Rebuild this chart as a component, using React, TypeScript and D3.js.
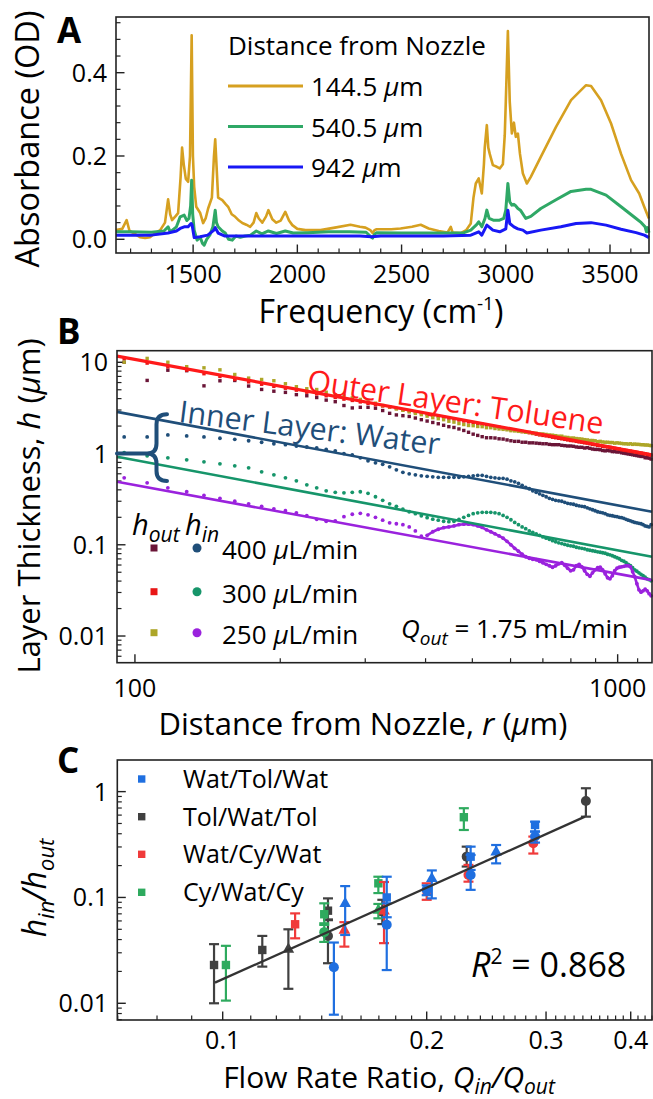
import React, { useEffect } from 'react';
import * as d3 from 'd3';

const FONT = "'Open Sans', 'Noto Sans', sans-serif";

// ---------------- Panel A data (frequency cm-1, absorbance OD) ----------------
const freqOrange = [1130,1160,1181,1195,1215,1245,1270,1293,1320,1342,1365,1380,1390,1399,1415,1428,1440,1447,1455,1465,1476,1485,1493,1499,1505,1515,1534,1548,1560,1572,1590,1600,1606,1612,1620,1640,1655,1668,1685,1702,1720,1736,1755,1774,1790,1803,1815,1832,1850,1861,1880,1899,1920,1942,1960,1976,2000,2039,2111,2180,2255,2300,2327,2350,2361,2370,2380,2450,2495,2550,2592,2630,2678,2720,2736,2745,2784,2810,2832,2845,2856,2870,2885,2895,2899,2909,2916,2923,2938,2957,2971,2986,2995,3000,3010,3019,3029,3039,3048,3058,3068,3082,3101,3120,3168,3241,3313,3385,3409,3457,3505,3553,3601,3640,3664,3683,3687];
const absOrange = [0.022,0.025,0.046,0.02,0.015,0.005,0.003,0.005,0.015,0.022,0.04,0.096,0.06,0.046,0.055,0.063,0.15,0.22,0.18,0.145,0.138,0.2,0.49,0.2,0.126,0.078,0.063,0.039,0.05,0.074,0.1,0.2,0.24,0.18,0.10,0.094,0.085,0.078,0.06,0.054,0.045,0.039,0.035,0.03,0.04,0.063,0.05,0.04,0.055,0.07,0.048,0.04,0.045,0.066,0.045,0.034,0.025,0.022,0.022,0.028,0.035,0.03,0.028,0.022,0.015,0.022,0.024,0.024,0.026,0.03,0.035,0.026,0.02,0.016,0.03,0.016,0.015,0.022,0.038,0.1,0.134,0.146,0.11,0.18,0.22,0.274,0.22,0.205,0.178,0.174,0.17,0.18,0.25,0.33,0.50,0.33,0.254,0.28,0.246,0.254,0.205,0.158,0.134,0.15,0.198,0.27,0.334,0.37,0.368,0.334,0.278,0.205,0.142,0.11,0.078,0.054,0.05];

const freqGreen = [1130,1200,1300,1360,1380,1390,1420,1438,1457,1470,1480,1488,1493,1498,1505,1519,1534,1545,1553,1565,1580,1595,1606,1612,1620,1640,1654,1670,1688,1705,1726,1750,1775,1803,1830,1861,1900,1942,1980,2050,2150,2250,2330,2355,2361,2370,2380,2500,2600,2700,2800,2832,2860,2870,2885,2900,2909,2920,2940,2970,2990,3000,3010,3019,3029,3039,3048,3058,3070,3096,3120,3168,3241,3313,3385,3409,3481,3553,3625,3650,3668,3675,3680,3687];
const absGreen = [0.018,0.018,0.017,0.02,0.03,0.018,0.03,0.054,0.058,0.045,0.05,0.08,0.142,0.06,0.022,-0.002,0.005,-0.01,-0.014,0.0,0.01,0.03,0.07,0.04,0.03,0.02,0.015,0.0,-0.002,0.008,0.005,0.008,0.01,0.02,0.013,0.02,0.014,0.02,0.015,0.016,0.018,0.018,0.017,0.005,0.003,0.012,0.016,0.015,0.015,0.015,0.016,0.022,0.035,0.042,0.03,0.05,0.07,0.05,0.046,0.046,0.05,0.07,0.134,0.09,0.082,0.084,0.08,0.074,0.07,0.05,0.055,0.074,0.095,0.115,0.12,0.12,0.106,0.078,0.05,0.04,0.03,0.018,0.028,0.016];

const freqBlue = [1130,1300,1380,1420,1438,1457,1476,1490,1495,1505,1534,1570,1600,1606,1620,1650,1800,2000,2300,2356,2400,2700,2832,2870,2885,2909,2938,2971,3000,3010,3019,3039,3058,3082,3101,3168,3264,3337,3409,3481,3553,3625,3665,3687];
const absBlue = [0.01,0.01,0.015,0.02,0.026,0.03,0.03,0.038,0.035,0.004,0.006,0.01,0.022,0.028,0.015,0.008,0.008,0.008,0.008,0.006,0.008,0.008,0.01,0.018,0.01,0.034,0.022,0.018,0.025,0.07,0.038,0.03,0.025,0.022,0.015,0.022,0.03,0.038,0.04,0.034,0.024,0.016,0.01,0.004];

const distances = ['144.5', '540.5', '942'];
const specColors = ['#D6A020', '#2FA866', '#1818F5'];
const aXTicks = [1500, 2000, 2500, 3000, 3500];
const aYTicks = [0, 0.2, 0.4];

// ---------------- Panel B data (r in um, h in um) ----------------
const rGrid = [95,106,117,128,139,150,161,172,183,194,205,216,227,238,249,260,271,282,293,304,315,326,337,348,359,370,381,392,403,414,425,436,447,458,469,480,491,502,513,524,535,546,557,568,579,590,601,612,623,634,645,656,667,678,689,700,711,722,733,744,755,766,777,788,799,810,821,832,843,854,865,876,887,898,909,920,931,942,953,964,975,986,997,1008,1019,1030,1041,1052,1063,1074,1085,1096,1107,1118,1129,1140,1151,1162,1173];
const hOut400 = [10.03,6.33,8.19,8.09,5.52,6.27,6.32,5.49,5.04,4.82,4.68,4.42,4.30,4.11,3.85,3.70,3.36,3.16,3.21,3.21,3.14,2.96,2.76,2.65,2.60,2.55,2.45,2.35,2.27,2.19,2.12,2.04,1.97,1.93,1.86,1.79,1.71,1.63,1.58,1.53,1.49,1.49,1.48,1.45,1.44,1.41,1.38,1.36,1.36,1.33,1.33,1.31,1.31,1.30,1.29,1.28,1.28,1.26,1.25,1.25,1.25,1.23,1.22,1.21,1.21,1.20,1.18,1.17,1.17,1.15,1.16,1.14,1.12,1.11,1.11,1.10,1.08,1.07,1.08,1.07,1.05,1.05,1.04,1.04,1.02,1.01,1.00,0.99,0.98,0.97,0.96,0.95,0.94,0.93,0.93,0.90,0.90,0.89,0.87];
const hOut300 = [11.0,9.8,8.9,8.2,7.5,7.0,6.5,6.1,5.75,5.45,5.2,4.95,4.7,4.5,4.3,4.12,3.95,3.82,3.68,3.55,3.43,3.32,3.22,3.12,3.02,2.93,2.85,2.78,2.70,2.63,2.57,2.50,2.44,2.39,2.33,2.27,2.22,2.18,2.13,2.09,2.05,2.01,1.97,1.94,1.90,1.87,1.83,1.80,1.77,1.74,1.71,1.69,1.66,1.63,1.60,1.58,1.56,1.54,1.51,1.49,1.47,1.45,1.43,1.41,1.39,1.38,1.36,1.34,1.33,1.31,1.30,1.28,1.26,1.25,1.23,1.22,1.20,1.19,1.18,1.17,1.15,1.14,1.13,1.12,1.10,1.09,1.08,1.07,1.06,1.05,1.04,1.03,1.02,1.01,1.00,0.99,0.98,0.97,0.96];
const hOut250 = [10.03,11.03,10.02,8.95,8.70,8.27,7.35,6.71,6.48,6.28,5.82,5.40,5.13,5.03,4.70,4.41,4.27,4.07,3.92,3.68,3.56,3.36,3.25,3.08,2.98,2.86,2.75,2.67,2.57,2.47,2.41,2.35,2.26,2.21,2.13,2.08,2.03,2.02,1.98,1.97,1.92,1.92,1.88,1.86,1.84,1.82,1.78,1.77,1.75,1.74,1.71,1.71,1.68,1.67,1.64,1.64,1.62,1.60,1.59,1.57,1.55,1.55,1.51,1.50,1.48,1.48,1.46,1.45,1.44,1.42,1.41,1.39,1.39,1.38,1.35,1.36,1.34,1.33,1.33,1.32,1.32,1.30,1.31,1.30,1.29,1.28,1.28,1.27,1.28,1.26,1.27,1.26,1.26,1.25,1.25,1.24,1.24,1.23,1.22];
const hIn400 = [1.52,1.52,1.60,1.56,1.52,1.47,1.43,1.38,1.33,1.28,1.25,1.21,1.18,1.15,1.11,1.07,1.00,0.968,0.897,0.832,0.791,0.762,0.715,0.663,0.622,0.599,0.584,0.570,0.563,0.556,0.549,0.549,0.549,0.549,0.549,0.556,0.563,0.570,0.577,0.577,0.563,0.549,0.542,0.535,0.535,0.524,0.502,0.490,0.472,0.448,0.426,0.411,0.390,0.376,0.362,0.348,0.336,0.323,0.315,0.307,0.303,0.300,0.292,0.285,0.281,0.278,0.271,0.267,0.264,0.261,0.254,0.248,0.242,0.236,0.230,0.227,0.224,0.219,0.213,0.210,0.208,0.205,0.203,0.200,0.198,0.195,0.190,0.186,0.183,0.179,0.176,0.174,0.172,0.170,0.166,0.161,0.159,0.157,0.166];
const hIn300 = [1.02,0.944,0.897,0.853,0.811,0.771,0.733,0.697,0.630,0.584,0.542,0.502,0.454,0.421,0.390,0.376,0.371,0.376,0.381,0.366,0.336,0.307,0.281,0.264,0.245,0.230,0.219,0.208,0.198,0.191,0.186,0.181,0.179,0.181,0.190,0.200,0.210,0.219,0.224,0.227,0.227,0.227,0.224,0.219,0.210,0.200,0.188,0.176,0.166,0.157,0.150,0.142,0.137,0.132,0.127,0.122,0.118,0.115,0.111,0.108,0.105,0.103,0.101,0.0988,0.0975,0.0963,0.0939,0.0927,0.0915,0.0904,0.0882,0.0871,0.0860,0.0849,0.0838,0.0828,0.0818,0.0807,0.0787,0.0777,0.0758,0.0739,0.0721,0.0703,0.0676,0.0660,0.0635,0.0611,0.0589,0.0560,0.0532,0.0513,0.0493,0.0475,0.0458,0.0441,0.0424,0.0414,0.0403];
const hIn250 = [0.542,0.478,0.421,0.381,0.348,0.323,0.300,0.281,0.264,0.248,0.236,0.224,0.208,0.190,0.181,0.183,0.203,0.216,0.221,0.213,0.200,0.186,0.174,0.170,0.166,0.157,0.142,0.124,0.127,0.139,0.148,0.154,0.157,0.161,0.166,0.168,0.168,0.166,0.161,0.155,0.146,0.139,0.132,0.125,0.118,0.109,0.100,0.0915,0.0849,0.0787,0.0739,0.0712,0.0694,0.0685,0.0660,0.0635,0.0611,0.0589,0.0567,0.0589,0.0619,0.0635,0.0596,0.0553,0.0519,0.0532,0.0589,0.0611,0.0574,0.0519,0.0475,0.0452,0.0493,0.0532,0.0560,0.0567,0.0532,0.0481,0.0435,0.0424,0.0458,0.0519,0.0553,0.0567,0.0574,0.0581,0.0589,0.0589,0.0574,0.0506,0.0446,0.0374,0.0321,0.0302,0.0313,0.0326,0.0313,0.0291,0.0276];

const fitR = [91.8, 1178];
const fitOuter = [11.7, 0.97];
const fitIn400 = [2.86, 0.23];
const fitIn300 = [0.92, 0.074];
const fitIn250 = [0.49, 0.041];

const flowRates = ['400', '300', '250'];
const outColors = ['#6A1537', '#E81616', '#ADA628'];
const inColors = ['#1F4E79', '#16956A', '#9A22DD'];
const bYTicks = [10, 1, 0.1, 0.01];
const bYLabels = ['10', '1', '0.1', '0.01'];
const bXTicks = [100, 1000];

// ---------------- Panel C data ----------------
// [Qin/Qout, hin/hout, lower, upper, shape]
const cBlue = [
  [0.1459, 0.0219, 0.0078, 0.0375, 'c'],
  [0.1516, 0.0881, 0.0442, 0.128, 't'],
  [0.1746, 0.100, 0.065, 0.157, 's'],
  [0.1746, 0.0553, 0.0206, 0.088, 'c'],
  [0.2035, 0.152, 0.098, 0.18, 't'],
  [0.2000, 0.118, 0.105, 0.13, 'c'],
  [0.2322, 0.243, 0.182, 0.302, 's'],
  [0.2322, 0.163, 0.118, 0.252, 'c'],
  [0.2532, 0.271, 0.21, 0.313, 't'],
  [0.2890, 0.484, 0.419, 0.52, 's'],
  [0.2890, 0.376, 0.33, 0.42, 'c'],
];
const cGray = [
  [0.0971, 0.023, 0.01, 0.0362, 's'],
  [0.1144, 0.0319, 0.0222, 0.0433, 's'],
  [0.125, 0.0326, 0.0137, 0.050, 't'],
  [0.143, 0.075, 0.062, 0.098, 's'],
  [0.143, 0.0433, 0.0239, 0.061, 'c'],
  [0.172, 0.0735, 0.056, 0.095, 'c'],
  [0.2291, 0.243, 0.196, 0.302, 'c'],
  [0.3435, 0.817, 0.58, 1.076, 'c'],
];
const cRed = [
  [0.1279, 0.0558, 0.0411, 0.0707, 's'],
  [0.1512, 0.0493, 0.0343, 0.0584, 't'],
  [0.173, 0.075, 0.037, 0.14, 't'],
  [0.2, 0.114, 0.095, 0.136, 's'],
  [0.2305, 0.163, 0.141, 0.203, 'c'],
  [0.2873, 0.325, 0.26, 0.376, 'c'],
];
const cGreen = [
  [0.1011, 0.023, 0.0106, 0.0349, 's'],
  [0.1412, 0.0694, 0.055, 0.088, 's'],
  [0.1412, 0.047, 0.038, 0.057, 'c'],
  [0.1697, 0.136, 0.11, 0.157, 's'],
  [0.1697, 0.0762, 0.0635, 0.0868, 't'],
  [0.2269, 0.573, 0.434, 0.697, 's'],
];
const cNames = ['Wat/Tol/Wat', 'Tol/Wat/Tol', 'Wat/Cy/Wat', 'Cy/Wat/Cy'];
const cColors = ['#1F6FE0', '#404040', '#F03A3A', '#2EAA5E'];
const cFitX = [0.0974, 0.3424];
const cFitY = [0.01566, 0.58];
const cXTicks = [0.1, 0.2, 0.3, 0.4];
const cYTicks = [1, 0.1, 0.01];
const cYLabels = ['1', '0.1', '0.01'];
const rSquared = '0.868';

function logMinor(min: number, max: number) {
  const out: number[] = [];
  for (let e = -4; e <= 4; e++) {
    for (let m = 2; m <= 9; m++) {
      const v = m * Math.pow(10, e);
      if (v >= min && v <= max) out.push(v);
    }
  }
  return out;
}

const MAJ = 8.5;
const MIN = 4.5;

function Frame({ x0, y0, x1, y1 }: any) {
  return <rect x={x0} y={y0} width={x1 - x0} height={y1 - y0} fill="none" stroke="#222" strokeWidth={1.6} />;
}

export default function App() {
  useEffect(() => {
    document.body.style.margin = '0';
  }, []);

  // ---------- Panel A ----------
  const A = { x0: 116, y0: 17, x1: 649, y1: 253 };
  const xA = d3.scaleLinear().domain([1130, 3687]).range([A.x0, A.x1]);
  const yA = d3.scaleLinear().domain([-0.0329, 0.5337]).range([A.y1, A.y0]);
  const aXMinor = d3.range(1200, 3700, 100).filter((v) => v % 500 !== 0);
  const aYMinor = d3.range(1, 14).map((k) => k * 0.04).filter((v, i) => (i + 1) % 5 !== 0 && v < 0.533);
  const lineA = d3.line<number[]>().x((d) => xA(d[0])).y((d) => yA(d[1]));
  const spectra = [
    d3.zip(freqOrange, absOrange),
    d3.zip(freqGreen, absGreen),
    d3.zip(freqBlue, absBlue),
  ];

  // ---------- Panel B ----------
  const B = { x0: 117, y0: 350.7, x1: 652, y1: 662.7 };
  const xB = d3.scaleLog().domain([91.8, 1178]).range([B.x0, B.x1]);
  const yB = d3.scaleLog().domain([0.0051, 13.4]).range([B.y1, B.y0]);
  const bXMinor = [200, 300, 400, 500, 600, 700, 800, 900, 1100];
  const bYMinor = logMinor(0.0051, 13.4);
  const outSeries = [hOut400, hOut300, hOut250];
  const inSeries = [hIn400, hIn300, hIn250];
  const fits = [fitIn250, fitIn300, fitIn400, fitOuter];
  const fitColors = [inColors[2], inColors[1], inColors[0], '#FF1A1A'];
  const braceY = yB(1);
  const lineB = d3.line<number[]>().x((d) => xB(d[0])).y((d) => yB(d[1]));
  const purpleTail = d3.zip(rGrid, hIn250).filter((d) => d[0] >= 403);

  // ---------- Panel C ----------
  const C = { x0: 117.3, y0: 760, x1: 652, y1: 1020 };
  const xC = d3.scaleLog().domain([0.0699, 0.43]).range([C.x0, C.x1]);
  const yC = d3.scaleLog().domain([0.00695, 1.99]).range([C.y1, C.y0]);
  const cXMinor = d3.range(7, 44).map((k) => k / 100).filter((v) => Math.round(v * 100) % 10 !== 0);
  const cYMinor = logMinor(0.00695, 1.99);
  const cGroups = [cGray, cGreen, cRed, cBlue];
  const cGroupColors = [cColors[1], cColors[3], cColors[2], cColors[0]];

  const marker = (shape: string, x: number, y: number, color: string, key: string) => {
    if (shape === 's') return <rect key={key} x={x - 4.2} y={y - 4.2} width={8.4} height={8.4} fill={color} />;
    if (shape === 'c') return <circle key={key} cx={x} cy={y} r={5} fill={color} />;
    return <path key={key} d={`M${x},${y - 6.5}L${x + 5.8},${y + 3.8}L${x - 5.8},${y + 3.8}Z`} fill={color} />;
  };

  return (
    <svg width={653} height={1099} style={{ position: 'absolute', left: 0, top: 0, display: 'block', background: '#fff' }} fontFamily={FONT}>
      <rect x={0} y={0} width={653} height={1099} fill="#fff" />

      {/* ================= Panel A ================= */}
      <text x={57} y={43} fontSize={35} fontWeight="bold">A</text>
      <g>
        {aXTicks.map((t) => (
          <g key={'ax' + t}>
            <line x1={xA(t)} x2={xA(t)} y1={A.y1} y2={A.y1 - MAJ} stroke="#222" strokeWidth={1.4} />
            <text x={xA(t)} y={283} fontSize={25} textAnchor="middle">{t}</text>
          </g>
        ))}
        {aXMinor.map((t) => (
          <line key={'axm' + t} x1={xA(t)} x2={xA(t)} y1={A.y1} y2={A.y1 - MIN} stroke="#222" strokeWidth={1.2} />
        ))}
        {aYTicks.map((t) => (
          <g key={'ay' + t}>
            <line x1={A.x0} x2={A.x0 + MAJ} y1={yA(t)} y2={yA(t)} stroke="#222" strokeWidth={1.4} />
            <text x={107} y={yA(t) + 9} fontSize={25} textAnchor="end">{t.toFixed(1)}</text>
          </g>
        ))}
        {aYMinor.map((t) => (
          <line key={'aym' + t} x1={A.x0} x2={A.x0 + MIN} y1={yA(t)} y2={yA(t)} stroke="#222" strokeWidth={1.2} />
        ))}
      </g>
      <g>
        {spectra.map((s, i) => (
          <path key={'sp' + i} d={lineA(s as any) || ''} fill="none" stroke={specColors[i]} strokeWidth={i === 0 ? 2.6 : 3} strokeLinejoin="round" />
        ))}
      </g>
      <Frame {...A} />
      <text x={228} y={55} fontSize={26}>Distance from Nozzle</text>
      {distances.map((d, i) => {
        const ly = 86 + i * 40.5;
        return (
          <g key={'lg' + d}>
            <line x1={228} x2={303} y1={ly} y2={ly} stroke={specColors[i]} strokeWidth={3} />
            <text x={311} y={ly + 10} fontSize={26}>
              {d} <tspan fontStyle="italic">μ</tspan>m
            </text>
          </g>
        );
      })}
      <text x={381} y={323} fontSize={32} textAnchor="middle">
        Frequency (cm<tspan dy={-13} fontSize={19}>-1</tspan>
        <tspan dy={13}>)</tspan>
      </text>
      <text transform="translate(39,139) rotate(-90)" fontSize={32.5} textAnchor="middle">Absorbance (OD)</text>

      {/* ================= Panel B ================= */}
      <text x={57} y={344} fontSize={35} fontWeight="bold">B</text>
      <g>
        {bXTicks.map((t) => (
          <g key={'bx' + t}>
            <line x1={xB(t)} x2={xB(t)} y1={B.y1} y2={B.y1 - MAJ} stroke="#222" strokeWidth={1.4} />
            <text x={xB(t)} y={697} fontSize={25} textAnchor="middle">{t}</text>
          </g>
        ))}
        {bXMinor.map((t) => (
          <line key={'bxm' + t} x1={xB(t)} x2={xB(t)} y1={B.y1} y2={B.y1 - MIN} stroke="#222" strokeWidth={1.2} />
        ))}
        {bYTicks.map((t, i) => (
          <g key={'by' + t}>
            <line x1={B.x0} x2={B.x0 + MAJ} y1={yB(t)} y2={yB(t)} stroke="#222" strokeWidth={1.4} />
            <text x={108} y={yB(t) + 9} fontSize={25} textAnchor="end">{bYLabels[i]}</text>
          </g>
        ))}
        {bYMinor.map((t) => (
          <line key={'bym' + t} x1={B.x0} x2={B.x0 + MIN} y1={yB(t)} y2={yB(t)} stroke="#222" strokeWidth={1.2} />
        ))}
      </g>
      <g>
        {outSeries.map((s, si) =>
          s.map((h, i) => (
            <rect key={'o' + si + '-' + i} x={xB(rGrid[i]) - 1.7} y={yB(h) - 1.7} width={3.4} height={3.4} fill={outColors[si]} />
          ))
        )}
        {inSeries.map((s, si) =>
          s.map((h, i) => (
            <circle key={'i' + si + '-' + i} cx={xB(rGrid[i])} cy={yB(h)} r={1.9} fill={inColors[si]} />
          ))
        )}
        <path d={lineB(purpleTail as any) || ''} fill="none" stroke={inColors[2]} strokeWidth={2.6} strokeLinejoin="round" />
      </g>
      <g>
        {fits.map((f, i) => (
          <line key={'fit' + i} x1={xB(fitR[0])} y1={yB(f[0])} x2={xB(fitR[1])} y2={yB(f[1])} stroke={fitColors[i]} strokeWidth={i === 3 ? 3.2 : 2.6} />
        ))}
      </g>
      <Frame {...B} />
      {/* brace */}
      <path
        d={`M${B.x0},${braceY} L147,${braceY} Q156.5,${braceY} 156.5,${braceY - 10} L156.5,${yB(2.7) + 10} Q156.5,${yB(2.7)} 167,${yB(2.7)} M147,${braceY} Q156.5,${braceY} 156.5,${braceY + 10} L156.5,${yB(0.5) - 10} Q156.5,${yB(0.5)} 167,${yB(0.5)}`}
        fill="none"
        stroke={inColors[0]}
        strokeWidth={4}
        strokeLinecap="round"
      />
      <text transform="translate(306,391) rotate(8.3)" fontSize={30.5} fill="#FF1A1A">Outer Layer: Toluene</text>
      <text transform="translate(178,422) rotate(7.2)" fontSize={30.5} fill={inColors[0]}>Inner Layer: Water</text>
      {/* legend */}
      <text x={132} y={535} fontSize={29} fontStyle="italic">
        h<tspan dy={7} fontSize={21}>out</tspan>
      </text>
      <text x={185} y={535} fontSize={29} fontStyle="italic">
        h<tspan dy={7} fontSize={21}>in</tspan>
      </text>
      {flowRates.map((q, i) => {
        const ry = [548, 591.7, 632.7][i];
        return (
          <g key={'bl' + q}>
            <rect x={150.5} y={ry - 3.5} width={7} height={7} fill={outColors[i]} />
            <circle cx={197} cy={ry} r={4.5} fill={inColors[i]} />
            <text x={222} y={ry + 11} fontSize={26}>
              {q} <tspan fontStyle="italic">μ</tspan>L/min
            </text>
          </g>
        );
      })}
      <text x={401} y={638} fontSize={26}>
        <tspan fontStyle="italic">Q</tspan>
        <tspan fontStyle="italic" dy={7} fontSize={19}>out</tspan>
        <tspan dy={-7}> = 1.75 mL/min</tspan>
      </text>
      <text x={363} y={735} fontSize={31} textAnchor="middle">
        Distance from Nozzle, <tspan fontStyle="italic">r</tspan> (<tspan fontStyle="italic">μ</tspan>m)
      </text>
      <text transform="translate(40,506) rotate(-90)" fontSize={31} textAnchor="middle">
        Layer Thickness, <tspan fontStyle="italic">h</tspan> (<tspan fontStyle="italic">μ</tspan>m)
      </text>

      {/* ================= Panel C ================= */}
      <text x={57} y={773} fontSize={35} fontWeight="bold">C</text>
      <g>
        {cXTicks.map((t) => (
          <g key={'cx' + t}>
            <line x1={xC(t)} x2={xC(t)} y1={C.y1} y2={C.y1 - MAJ} stroke="#222" strokeWidth={1.4} />
            <text x={xC(t)} y={1049} fontSize={25} textAnchor="middle">{t}</text>
          </g>
        ))}
        {cXMinor.map((t) => (
          <line key={'cxm' + t} x1={xC(t)} x2={xC(t)} y1={C.y1} y2={C.y1 - MIN} stroke="#222" strokeWidth={1.2} />
        ))}
        {cYTicks.map((t, i) => (
          <g key={'cy' + t}>
            <line x1={C.x0} x2={C.x0 + MAJ} y1={yC(t)} y2={yC(t)} stroke="#222" strokeWidth={1.4} />
            <text x={108} y={yC(t) + 9} fontSize={25} textAnchor="end">{cYLabels[i]}</text>
          </g>
        ))}
        {cYMinor.map((t) => (
          <line key={'cym' + t} x1={C.x0} x2={C.x0 + MIN} y1={yC(t)} y2={yC(t)} stroke="#222" strokeWidth={1.2} />
        ))}
      </g>
      <g>
        {cGroups.map((g, gi) =>
          g.map((p: any, i) => {
            const x = xC(p[0]);
            const col = cGroupColors[gi];
            return (
              <g key={'cp' + gi + '-' + i}>
                <line x1={x} x2={x} y1={yC(p[2])} y2={yC(p[3])} stroke={col} strokeWidth={2.2} />
                <line x1={x - 5} x2={x + 5} y1={yC(p[2])} y2={yC(p[2])} stroke={col} strokeWidth={2.2} />
                <line x1={x - 5} x2={x + 5} y1={yC(p[3])} y2={yC(p[3])} stroke={col} strokeWidth={2.2} />
                {marker(p[4], x, yC(p[1]), col, 'm')}
              </g>
            );
          })
        )}
      </g>
      <line x1={xC(cFitX[0])} y1={yC(cFitY[0])} x2={xC(cFitX[1])} y2={yC(cFitY[1])} stroke="#333" strokeWidth={2.3} />
      <Frame {...C} />
      {cNames.map((n, i) => {
        const ry = [779, 816.7, 854.3, 892.3][i];
        return (
          <g key={'cl' + n}>
            <rect x={138} y={ry - 3.7} width={7.4} height={7.4} fill={cColors[i]} />
            <text x={183} y={ry + 9} fontSize={25}>{n}</text>
          </g>
        );
      })}
      <text x={471} y={977} fontSize={34}>
        <tspan fontStyle="italic">R</tspan>
        <tspan dy={-13} fontSize={21}>2</tspan>
        <tspan dy={13}> = {rSquared}</tspan>
      </text>
      <text x={389} y={1088} fontSize={30} textAnchor="middle">
        Flow Rate Ratio, <tspan fontStyle="italic">Q</tspan>
        <tspan fontStyle="italic" dy={6} fontSize={21}>in</tspan>
        <tspan fontStyle="italic" dy={-6}>/Q</tspan>
        <tspan fontStyle="italic" dy={6} fontSize={21}>out</tspan>
      </text>
      <text transform="translate(46,888) rotate(-90)" fontSize={32} fontStyle="italic" textAnchor="middle">
        h<tspan dy={8} fontSize={22}>in</tspan>
        <tspan dy={-8}>/h</tspan>
        <tspan dy={8} fontSize={22}>out</tspan>
      </text>
    </svg>
  );
}
